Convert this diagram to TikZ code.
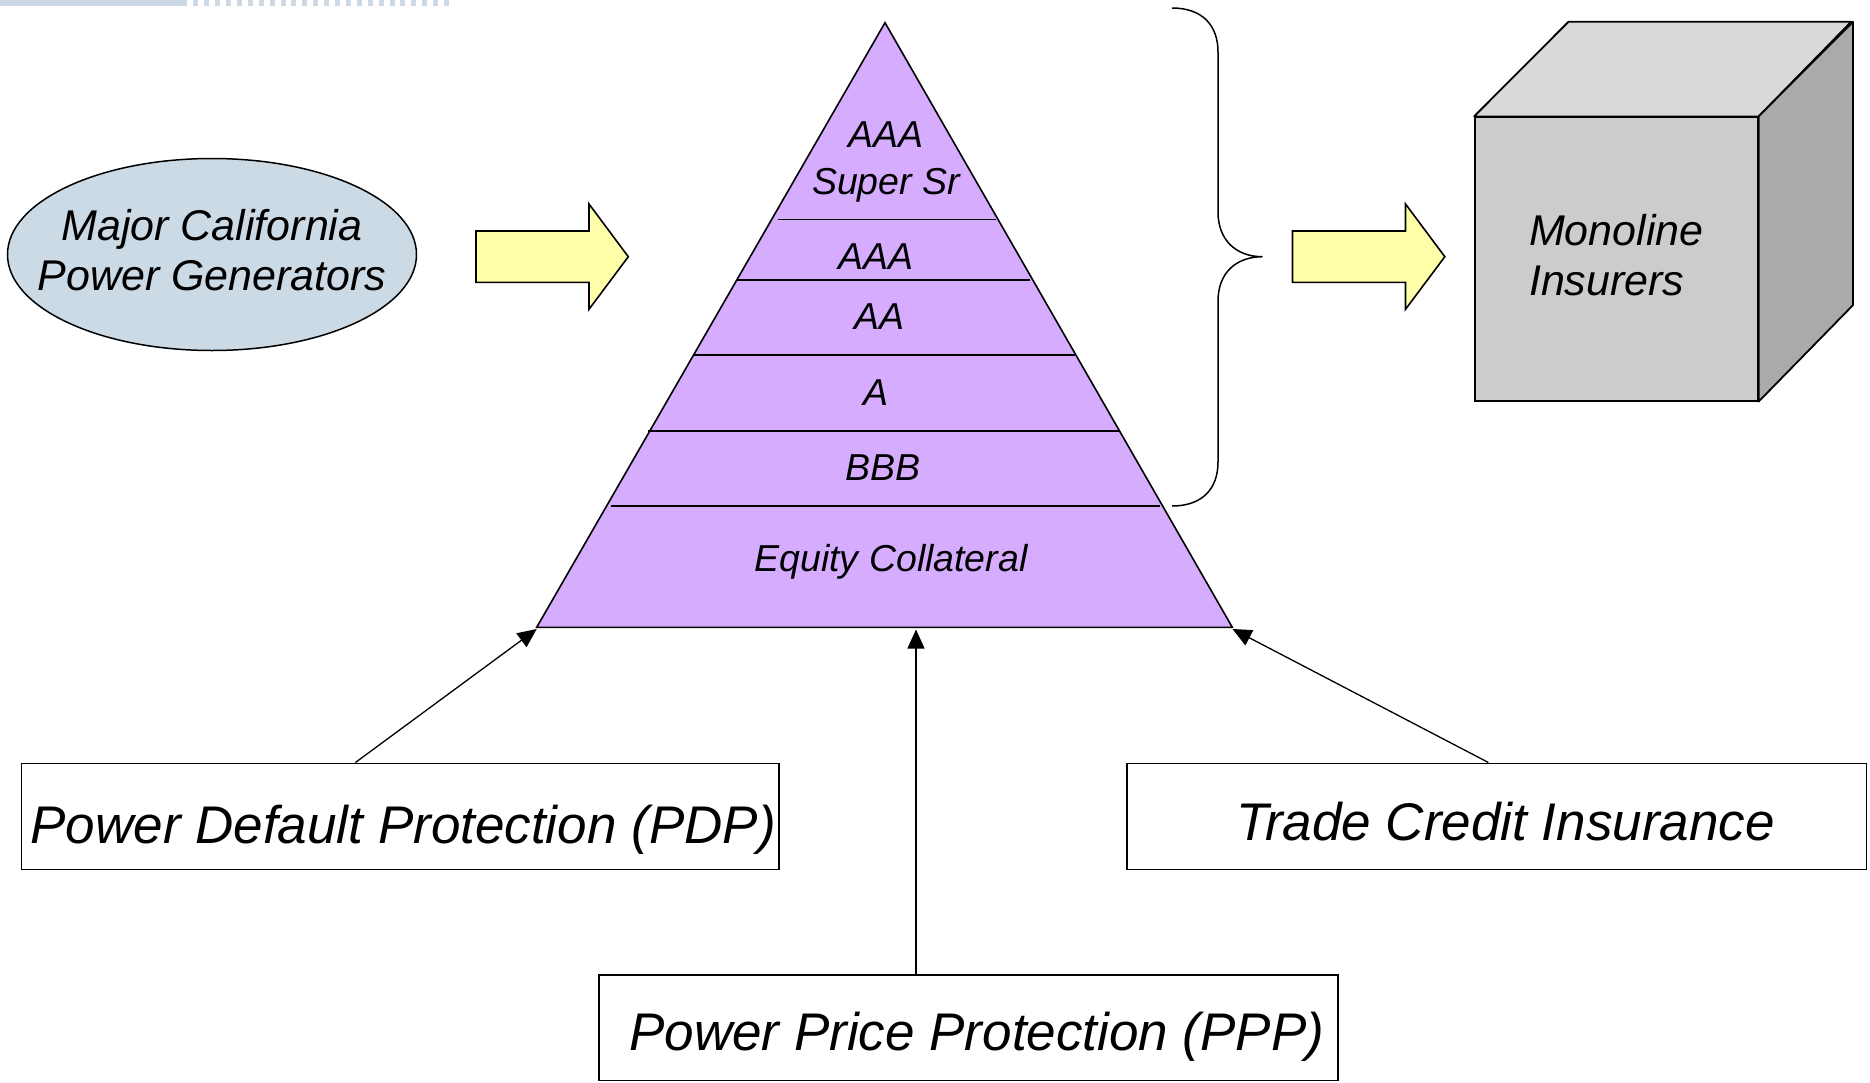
\documentclass[tikz,border=0pt]{standalone}
\usepackage{fontspec}
\setmainfont{Liberation Sans}
\usetikzlibrary{shapes.geometric,arrows.meta}
\definecolor{barblue}{RGB}{204,217,228}
\definecolor{genblue}{RGB}{204,218,229}
\definecolor{pyrpurple}{RGB}{214,172,255}
\definecolor{arrowyellow}{RGB}{255,255,170}
\definecolor{cubefront}{RGB}{204,204,204}
\definecolor{cubetop}{RGB}{217,217,217}
\definecolor{cubeside}{RGB}{170,170,170}
\begin{document}
\begin{tikzpicture}[x=1pt,y=-1pt,
  lbl/.style={font=\fontsize{37.5}{45}\selectfont\itshape, inner sep=0pt, anchor=base},
  bigtxt/.style={font=\fontsize{43}{50}\selectfont\itshape, inner sep=0pt},
  boxlbl/.style={draw, line width=1.6pt, font=\fontsize{53}{60}\selectfont\itshape, inner sep=0pt, text depth=0pt},
  conn/.style={line width=1.3pt, -{Triangle[length=19pt,width=17pt]}},
  yarrow/.style={draw, line width=1.6pt, fill=arrowyellow, line join=miter},
  edge/.style={line width=1.6pt},
  cubeface/.style={draw, line width=1.8pt, line join=round}
]
\useasboundingbox (0,0) rectangle (1870,1082);

% top decoration bar
\fill[barblue] (0,0) rectangle (187.3,6);
\foreach \i in {0,...,23} \fill[barblue] ({193.3+10.9*\i},0) rectangle ++(5,6);

% generators ellipse
\node[ellipse, draw, line width=1.5pt, fill=genblue, minimum width=409pt, minimum height=192pt, inner sep=0pt] (gen) at (212,254.5) {};
\node[bigtxt, align=center] (gentxt) at ([yshift=4.5pt]gen.center) {Major California\\Power Generators};

% yellow block arrows
\foreach \dx in {0,816.5}
  \path[yarrow, shift={(\dx,0)}] (476,231) -- (589,231) -- (589,204) -- (628.3,256.7) -- (589,309.3) -- (589,282.3) -- (476,282.3) -- cycle;

% pyramid
\coordinate (apex) at (885,22.7);
\coordinate (pyrL) at (536.7,627.3);
\coordinate (pyrR) at (1232.3,627.3);
\coordinate (tipL) at (536.7,629);
\coordinate (tipM) at (916,629.5);
\coordinate (tipR) at (1232.5,629);
\draw[edge, fill=pyrpurple, line join=miter] (apex) -- (pyrR) -- (pyrL) -- cycle;
\draw[edge] (778,219.3) -- (996,219.3)
            (737,280) -- (1030,280)
            (694,355) -- (1075,355)
            (648,430.7) -- (1119,430.7)
            (611,506) -- (1160,506);

\node[lbl, anchor=center, align=center, font=\fontsize{37.5}{47}\selectfont\itshape] (t1) at (886,162.2) {AAA\\Super Sr};
\node[lbl] (t2) at (876,269.3) {AAA};
\node[lbl] (t3) at (879,329.3) {AA};
\node[lbl] (t4) at (875.5,405) {A};
\node[lbl] (t5) at (883,480) {BBB};
\node[lbl] (t6) at (891,571.7) {Equity Collateral};

% brace
\draw[line width=1.5pt] (1172,8) .. controls (1202,8) and (1218,25) .. (1218,52) -- (1218,212)
  .. controls (1218,240) and (1236,256.7) .. (1262.5,256.7)
  .. controls (1236,256.7) and (1218,273) .. (1218,301) -- (1218,462)
  .. controls (1218,489) and (1202,506) .. (1172,506);

% cube
\node[draw, line width=1.8pt, fill=cubefront, minimum width=282.7pt, minimum height=283.4pt, inner sep=0pt] (mono) at (1616.35,259) {};
\path[cubeface, fill=cubetop] (mono.north west) -- ++(94.3,-94.6) -- ++(282.7,0) -- (mono.north east) -- cycle;
\path[cubeface, fill=cubeside] (mono.north east) -- ++(94.3,-94.6) -- ++(0,283.4) -- (mono.south east) -- cycle;
\node[bigtxt, align=left] (monotxt) at ([yshift=4pt]mono.center) {Monoline\\Insurers};

% boxes
\node[boxlbl, minimum width=757.3pt, minimum height=106pt, text height=55pt] (pdp) at (400.15,816.3) {\hspace*{6pt}Power Default Protection (PDP)};
\node[boxlbl, minimum width=739.5pt, minimum height=106pt, text height=48pt] (tci) at (1496.75,816.3) {\hspace*{18pt}Trade Credit Insurance};
\node[boxlbl, minimum width=739.3pt, minimum height=105.5pt, text height=45.4pt] (ppp) at (968.35,1027.75) {\hspace*{17pt}Power Price Protection (PPP)};

% connectors
\draw[conn] ([xshift=-44.75pt]pdp.north) -- (tipL);
\draw[conn] ([xshift=-52.35pt]ppp.north) -- (tipM);
\draw[conn] ([xshift=-8.35pt]tci.north) -- (tipR);
\end{tikzpicture}
\end{document}
